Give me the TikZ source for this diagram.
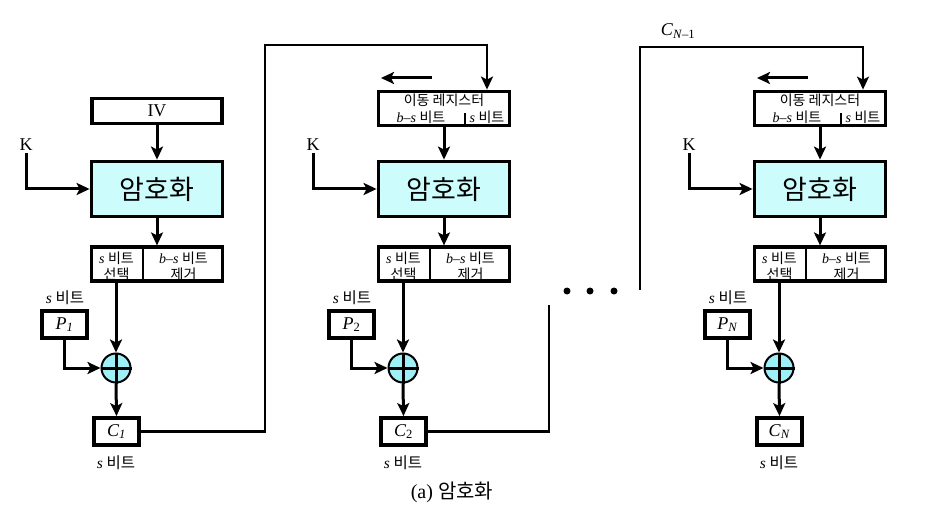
\documentclass[tikz,border=0pt]{standalone}
\usepackage{fontspec}
\setmainfont{Liberation Serif}
\newfontfamily\kr{Noto Sans CJK KR}
\usetikzlibrary{arrows.meta,calc}
\definecolor{encfill}{HTML}{CCFCFC}
\definecolor{xorfill}{HTML}{9EF0F6}
\newcommand\bt{{\kr 비트}}
\newcommand\mystage[4]{% id, cx, P subscript, C subscript
  \node[encbox] (enc#1) at (#2,189) {\kr\fontsize{27}{29}\selectfont 암호화};
  \node[selbox] (sel#1) at (#2,264) {};
  \draw[divline] ($(sel#1.north)+(-14,0)$) -- ($(sel#1.south)+(-14,0)$);
  \node[smtxt] (sela#1) at (#2-40.5,266) {\textit{s} \bt\\{\kr 선택}};
  \node[smtxt] (selb#1) at (#2+26.5,266) {\textit{b}–\textit{s} \bt\\{\kr 제거}};
  \node[xorc] (xor#1) at (#2-41,368) {};
  \draw[xorx] (xor#1.north) -- (xor#1.south) (xor#1.west) -- (xor#1.east);
  \node[pbox] (P#1) at (#2-92.5,324.5) {\textit{P}\textsubscript{#3}};
  \node[lbl] (Pl#1) at (#2-92,298) {\textit{s} \bt};
  \node[pbox] (C#1) at (#2-40.5,431.5) {\textit{C}\textsubscript{#4}};
  \node[lbl] (Cl#1) at (#2-41,463) {\textit{s} \bt};
  \node[ktxt] (K#1) at (#2-131,145) {K};
  \draw[arr] (K#1.south) |- (enc#1.west);
  \draw[arr] (enc#1.south) -- (sel#1.north);
  \draw[arr] (xor#1 |- sel#1.south) -- (xor#1.north);
  \draw[arr] (P#1.south) |- (xor#1.west);
  \draw[arr] (xor#1.south) -- (C#1.north);
}
\newcommand\myreg[2]{% id, cx
  \node[regbox] (reg#1) at (#2,108.5) {};
  \node[smtxt] (rega#1) at (#2,100) {\kr 이동 레지스터};
  \node[smtxt] (regb#1) at (#2-23,117) {\textit{b}–\textit{s} \bt};
  \node[smtxt] (regc#1) at (#2+43,117) {\textit{s} \bt};
  \draw[divline] ($(reg#1.south)+(21,0)$) -- ($(reg#1.south)+(21,-14)$);
  \draw[arr] (reg#1.south) -- (enc#1.north);
  \coordinate (sh#1a) at (#2-12,78);
  \coordinate (sh#1b) at (#2-63,78);
  \draw[arr] (sh#1a) -- (sh#1b);
  \coordinate (in#1) at ($(reg#1.north)+(43,0)$);
}
\begin{document}
\begin{tikzpicture}[x=1pt,y=-1pt,
  box/.style={draw,line width=3.8pt,inner sep=0pt},
  encbox/.style={box,fill=encfill,minimum width=131pt,minimum height=55pt},
  selbox/.style={draw,line width=3.2pt,inner sep=0pt,minimum width=131pt,minimum height=34pt},
  regbox/.style={box,minimum width=131pt,minimum height=34pt},
  ivbox/.style={box,minimum width=130pt,minimum height=25pt,font=\fontsize{18}{20}\selectfont},
  pbox/.style={box,minimum width=45pt,minimum height=27pt,font=\fontsize{18}{20}\selectfont},
  divline/.style={line width=1.6pt},
  smtxt/.style={inner sep=0pt,align=center,font=\fontsize{14}{16}\selectfont},
  lbl/.style={inner sep=0pt,font=\fontsize{15.5}{17}\selectfont},
  ktxt/.style={inner sep=2pt,font=\fontsize{18}{20}\selectfont},
  xorc/.style={circle,draw,line width=2pt,fill=xorfill,minimum size=29pt,inner sep=0pt},
  xorx/.style={line width=3pt},
  tip/.style={-{Stealth[length=13pt,width=12pt,inset=3pt]}},
  arr/.style={line width=3pt,tip},
  ln/.style={line width=2.8pt},
  thinln/.style={line width=2pt},
  dot/.style={circle,fill=black,inner sep=0pt,minimum size=7pt}]
\useasboundingbox (0,0) rectangle (934,513);
% stage 1
\mystage{1}{157}{\textit{1}}{\textit{1}}
\node[ivbox] (IV) at (157,111) {IV};
\draw[arr] (IV.south) -- (enc1.north);
% stage 2
\mystage{2}{444}{2}{2}
\myreg{2}{444}
% stage N
\mystage{3}{820}{\textit{N}}{\textit{N}}
\myreg{3}{820}
% feedback lines
\coordinate (b1) at (265,45);
\draw[ln,tip] (C1.east) -| (b1) -| (in2);
\coordinate (e2) at (549,305);
\draw[ln] (C2.east) -| (e2);
\coordinate (s3) at (640,290);
\coordinate (b3) at (640,47);
\draw[thinln,tip] (s3) -- (b3) -| (in3);
\node[inner sep=0pt,font=\fontsize{18}{20}\selectfont] (cn1) at (678,31) {\textit{C}\textsubscript{\textit{N}–1}};
% dots
\node[dot] (d1) at (567,291) {};
\node[dot] (d2) at (590,291) {};
\node[dot] (d3) at (614,291) {};
% caption
\node[inner sep=0pt,font=\fontsize{20}{22}\selectfont] (cap) at (452,492) {(a) {\kr 암호화}};
\end{tikzpicture}
\end{document}
